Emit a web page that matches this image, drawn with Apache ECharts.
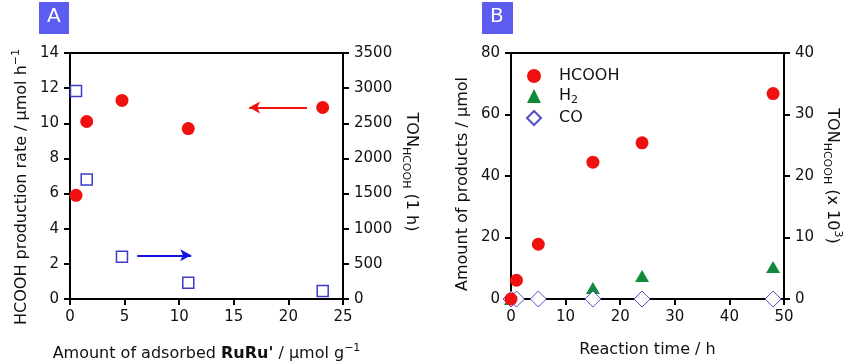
<!DOCTYPE html>
<html>
<head>
<meta charset="utf-8">
<script src="https://cdn.jsdelivr.net/npm/echarts@6/dist/echarts.min.js"></script>
<style>html,body{margin:0;padding:0;background:#fff}#c{width:848px;height:364px}</style>
</head>
<body>
<div id="c"></div>
<script>
// ---- Panel A data ----
const adsorbedA = [0.55, 1.53, 4.76, 10.83, 23.14];
const rateA = [5.9, 10.1, 11.3, 9.7, 10.9];
const tonA = [2960, 1700, 600, 230, 115];
const ticksAx = [0, 5, 10, 15, 20, 25];
const ticksAyL = [0, 2, 4, 6, 8, 10, 12, 14];
const ticksAyR = [0, 500, 1000, 1500, 2000, 2500, 3000, 3500];
// arrows (annotation): [x0, y0, x1, y1]
const arrowRed = [21.7, 10.9, 16.4, 10.9];   // left axis units
const arrowBlue = [6.15, 622, 11.1, 622];    // right axis units
// ---- Panel B data ----
const timeB = [0, 1, 5, 15, 24, 48];
const hcoohB = [0, 6.1, 17.8, 44.5, 50.8, 66.8];
const h2Time = [0, 15, 24, 48];
const h2B = [0, 3.6, 7.5, 10.4];
const coB = [0, 0, 0, 0, 0, 0];
const ticksBx = [0, 10, 20, 30, 40, 50];
const ticksByL = [0, 20, 40, 60, 80];
const ticksByR = [0, 10, 20, 30, 40];

const FF = 'DejaVu Sans';
const TXT = '#111';
const RED = '#f01010';
const BLUE = '#3c3cc8';
const GREEN = '#118a3c';
const rich = {
  a: {fontSize: 16, fontFamily: FF, color: TXT, lineHeight: 22},
  b: {fontSize: 16, fontFamily: FF, color: TXT, lineHeight: 22, fontWeight: 'bold'},
  s: {fontSize: 11, fontFamily: FF, color: TXT, lineHeight: 10, verticalAlign: 'bottom'},
  u: {fontSize: 11, fontFamily: FF, color: TXT, lineHeight: 10, verticalAlign: 'top'}
};
const richLeg = {
  a: {fontSize: 16, fontFamily: FF, color: TXT, lineHeight: 20},
  s: {fontSize: 11, fontFamily: FF, color: TXT, lineHeight: 8, verticalAlign: 'bottom'}
};
const axLine = {show: true, onZero: false, lineStyle: {color: '#000', width: 2}};
const axTick = {show: true, inside: false, length: 6, lineStyle: {color: '#000', width: 2}};
const axLabel = {fontSize: 15, fontFamily: FF, color: TXT, margin: 11, formatter: v => String(v)};
function vAxis(extra, ticks, pad) {
  return Object.assign({
    type: 'value', min: ticks[0], max: ticks[ticks.length - 1],
    interval: ticks[1] - ticks[0],
    axisLine: axLine, axisTick: axTick, axisLabel: axLabel,
    splitLine: {show: false}, nameLocation: 'middle',
    nameTextStyle: {rich: rich, padding: pad || 0}
  }, extra);
}
const zipA1 = adsorbedA.map((x, i) => [x, rateA[i]]);
const zipA2 = adsorbedA.map((x, i) => [x, tonA[i]]);
const zipB1 = timeB.map((x, i) => [x, hcoohB[i]]);
const zipB2 = h2Time.map((x, i) => [x, h2B[i]]);
const zipB3 = timeB.map((x, i) => [x, coB[i]]);

const chart = echarts.init(document.getElementById('c'), null, {renderer: 'canvas'});
chart.setOption({
  animation: false,
  backgroundColor: '#fff',
  grid: [
    {left: 70, right: 505, top: 53, bottom: 65, show: true, borderColor: '#000', borderWidth: 2, containLabel: false, outerBoundsMode: 'none'},
    {left: 511, right: 64, top: 53, bottom: 65, show: true, borderColor: '#000', borderWidth: 2, containLabel: false, outerBoundsMode: 'none'}
  ],
  xAxis: [
    vAxis({gridIndex: 0, name: '{a|Amount of adsorbed }{b|RuRu\'}{a| / μmol g}{u|−1}', nameGap: 44}, ticksAx),
    vAxis({gridIndex: 1, name: '{a|Reaction time / h}', nameGap: 40}, ticksBx)
  ],
  yAxis: [
    vAxis({gridIndex: 0, position: 'left', name: '{a|HCOOH production rate / μmol h}{u|−1}', nameGap: 37}, ticksAyL, [0, 22, 0, 0]),
    vAxis({gridIndex: 0, position: 'right', name: '{a|TON}{s|HCOOH}{a| (1 h)}', nameGap: 57, nameRotate: -90}, ticksAyR, [0, 8, 0, 0]),
    vAxis({gridIndex: 1, position: 'left', name: '{a|Amount of products / μmol}', nameGap: 37}, ticksByL, [0, 16, 0, 0]),
    vAxis({gridIndex: 1, position: 'right', name: '{a|TON}{s|HCOOH}{a| (x 10}{u|3}{a|)}', nameGap: 37, nameRotate: -90}, ticksByR)
  ],
  legend: {
    data: ['HCOOH', 'H2', 'CO'], orient: 'vertical', left: 521, top: 63,
    itemWidth: 14, itemHeight: 14, itemGap: 4,
    formatter: n => n === 'H2' ? '{a|H}{s|2}' : '{a|' + n + '}',
    textStyle: {rich: richLeg, padding: [0, 0, 0, 13]}
  },
  graphic: [
    {type: 'rect', left: 39, top: 2, shape: {width: 30, height: 32}, style: {fill: '#5c5cf0'}},
    {type: 'text', left: 47, top: 7, style: {text: 'A', fill: '#fff', font: '20px "DejaVu Sans"'}},
    {type: 'rect', left: 482, top: 2, shape: {width: 31, height: 32}, style: {fill: '#5c5cf0'}},
    {type: 'text', left: 490, top: 7, style: {text: 'B', fill: '#fff', font: '20px "DejaVu Sans"'}}
  ],
  series: [
    {
      name: 'rate', type: 'scatter', xAxisIndex: 0, yAxisIndex: 0, data: zipA1,
      symbol: 'circle', symbolSize: 13, itemStyle: {color: RED, opacity: 1}, z: 3,
      markLine: {
        silent: true, symbol: ['none', 'arrow'], symbolSize: [9, 11],
        lineStyle: {color: RED, width: 2, type: 'solid', opacity: 1}, label: {show: false},
        data: [[{coord: [arrowRed[0], arrowRed[1]]}, {coord: [arrowRed[2], arrowRed[3]]}]]
      }
    },
    {
      name: 'ton', type: 'scatter', xAxisIndex: 0, yAxisIndex: 1, data: zipA2,
      symbol: 'rect', symbolSize: 11, itemStyle: {color: '#fff', borderColor: BLUE, borderWidth: 1.5, opacity: 1}, z: 2,
      markLine: {
        silent: true, symbol: ['none', 'arrow'], symbolSize: [9, 11],
        lineStyle: {color: '#1414e6', width: 2, type: 'solid', opacity: 1}, label: {show: false},
        data: [[{coord: [arrowBlue[0], arrowBlue[1]]}, {coord: [arrowBlue[2], arrowBlue[3]]}]]
      }
    },
    {
      name: 'HCOOH', type: 'scatter', xAxisIndex: 1, yAxisIndex: 2, data: zipB1,
      symbol: 'circle', symbolSize: 13, itemStyle: {color: RED, opacity: 1}, z: 5
    },
    {
      name: 'H2', type: 'scatter', xAxisIndex: 1, yAxisIndex: 2, data: zipB2,
      symbol: 'triangle', symbolSize: [14, 12], itemStyle: {color: GREEN, opacity: 1}, z: 3
    },
    {
      name: 'CO', type: 'scatter', xAxisIndex: 1, yAxisIndex: 2, data: zipB3,
      symbol: 'diamond', symbolSize: 16, itemStyle: {color: '#fff', borderColor: '#5050c8', borderWidth: 1, opacity: 1}, z: 4
    }
  ]
});
</script>
</body>
</html>
